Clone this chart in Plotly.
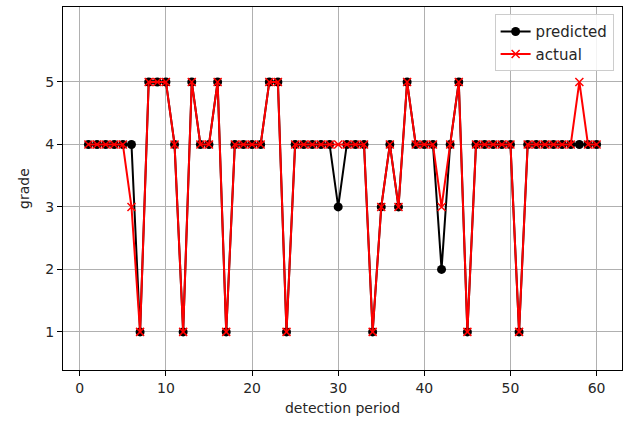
import plotly.graph_objects as go

periods = list(range(1, 61))
predicted = [4, 4, 4, 4, 4, 4, 1, 5, 5, 5,
             4, 1, 5, 4, 4, 5, 1, 4, 4, 4,
             4, 5, 5, 1, 4, 4, 4, 4, 4, 3,
             4, 4, 4, 1, 3, 4, 3, 5, 4, 4,
             4, 2, 4, 5, 1, 4, 4, 4, 4, 4,
             1, 4, 4, 4, 4, 4, 4, 4, 4, 4]
actual = [4, 4, 4, 4, 4, 3, 1, 5, 5, 5,
          4, 1, 5, 4, 4, 5, 1, 4, 4, 4,
          4, 5, 5, 1, 4, 4, 4, 4, 4, 4,
          4, 4, 4, 1, 3, 4, 3, 5, 4, 4,
          4, 3, 4, 5, 1, 4, 4, 4, 4, 4,
          1, 4, 4, 4, 4, 4, 4, 5, 4, 4]
x_ticks = [0, 10, 20, 30, 40, 50, 60]
y_ticks = [1, 2, 3, 4, 5]

font = "DejaVu Sans"

fig = go.Figure()
fig.add_trace(go.Scatter(
    x=periods, y=predicted, mode="lines+markers", name="predicted",
    line=dict(color="black", width=2),
    marker=dict(symbol="circle", size=9, color="black"),
))
fig.add_trace(go.Scatter(
    x=periods, y=actual, mode="lines+markers", name="actual",
    line=dict(color="red", width=2),
    marker=dict(symbol="x-thin", size=8, color="red", line=dict(color="red", width=1.5)),
))

axis_common = dict(
    showgrid=True, gridcolor="#b0b0b0", gridwidth=1,
    showline=True, linecolor="black", linewidth=1, mirror=True,
    ticks="outside", ticklen=5, tickcolor="black", tickwidth=1,
    zeroline=False,
    tickfont=dict(family=font, size=14, color="#262626"),
    title_font=dict(family=font, size=14, color="#262626"),
)

fig.update_layout(
    width=635, height=422,
    margin=dict(l=63, r=13, t=7, b=52),
    plot_bgcolor="white", paper_bgcolor="white",
    font=dict(family=font, size=14, color="#262626"),
    xaxis=dict(range=[-1.95, 62.95], tickvals=x_ticks,
               title=dict(text="detection period", standoff=8), **axis_common),
    yaxis=dict(range=[0.39, 6.2], tickvals=y_ticks,
               title=dict(text="grade", standoff=12), **axis_common),
    legend=dict(x=0.985, y=0.98, xanchor="right", yanchor="top",
                bgcolor="rgba(255,255,255,0.85)", bordercolor="#cccccc", borderwidth=1,
                font=dict(family=font, size=15, color="#262626"),
                itemwidth=30, tracegroupgap=0),
    showlegend=True,
)

fig.write_html("out.html")
